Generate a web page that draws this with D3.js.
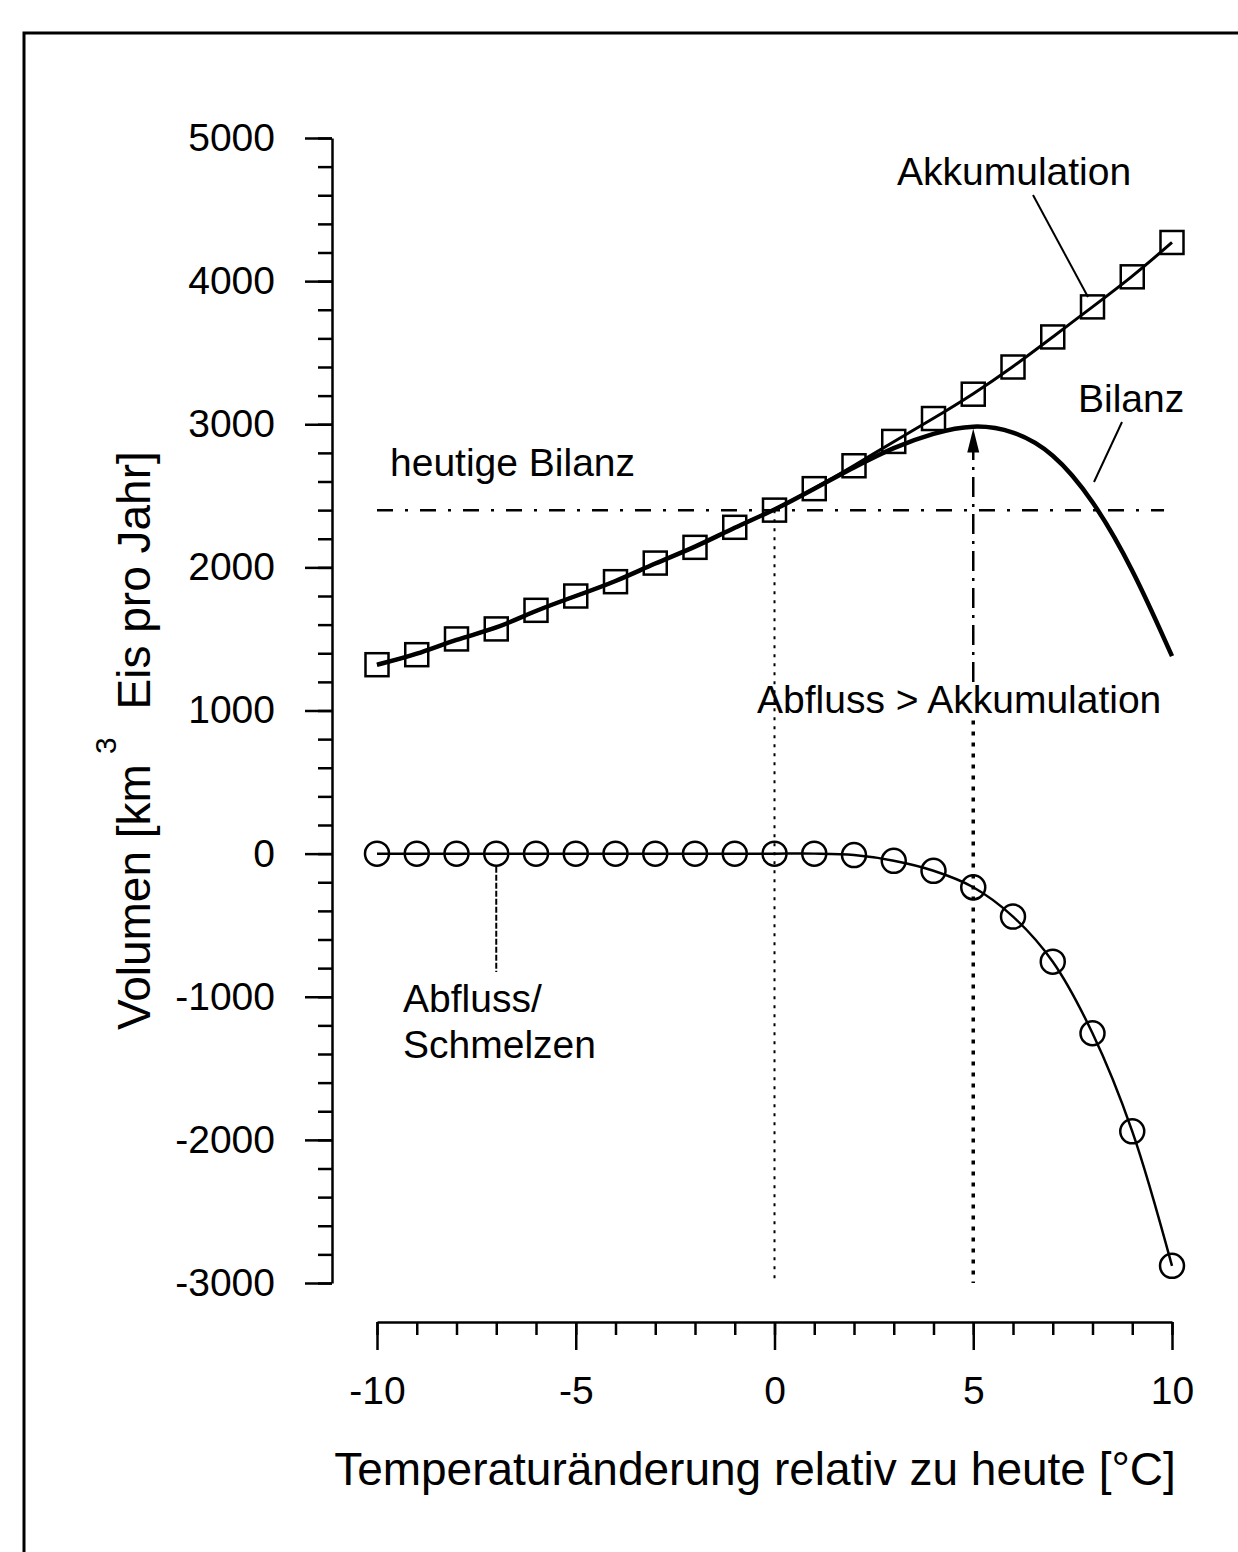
<!DOCTYPE html>
<html>
<head>
<meta charset="utf-8">
<script src="https://cdn.jsdelivr.net/npm/d3@7"></script>
<style>
  body { margin: 0; background: #fff; }
  svg { display: block; }
  text { font-family: "Liberation Sans", Arial, Helvetica, sans-serif; fill: #000; }
</style>
</head>
<body>
<div id="chart"></div>
<script>
// data (temperature change vs. ice volume per year)
var temps = [-10, -9, -8, -7, -6, -5, -4, -3, -2, -1, 0, 1, 2, 3, 4, 5, 6, 7, 8, 9, 10];
var akkumulation = [1320, 1390, 1500, 1570, 1700, 1800, 1900, 2030, 2140, 2280, 2400, 2550, 2710, 2880, 3040, 3210, 3400, 3610, 3820, 4030, 4270];
var abfluss = [0, 0, 0, 0, 0, 0, 0, 0, 0, 0, 0, 0, -10, -50, -120, -235, -440, -755, -1255, -1940, -2880];
var bilanz = [1320, 1390, 1500, 1570, 1700, 1800, 1900, 2030, 2140, 2280, 2400, 2550, 2700, 2840, 2940, 3000, 2960, 2810, 2480, 2000, 1380];
var heutigeBilanz = 2400;
var xTicks = [-10, -5, 0, 5, 10];
var yTicks = [-3000, -2000, -1000, 0, 1000, 2000, 3000, 4000, 5000];

var svgWidth = 1238, svgHeight = 1552;

var svg = d3.select("#chart")
  .append("svg")
  .attr("width", svgWidth)
  .attr("height", svgHeight);

// outer frame (runs off the right and bottom edge)
svg.append("rect")
  .attr("x", 24).attr("y", 33)
  .attr("width", 1300).attr("height", 1600)
  .attr("fill", "none")
  .attr("stroke", "#000")
  .attr("stroke-width", 3);

var xScale = d3.scaleLinear().domain([-10, 10]).range([377, 1172]);
var yScale = d3.scaleLinear().domain([-3000, 5000]).range([1283, 138]);

// plain numbers, hyphen as minus sign like the original
var plain = function(d) { return String(d); };

// ---- y axis ----
var yMinor = d3.range(-3000, 5001, 200);
svg.append("g")
  .attr("transform", "translate(332,0)")
  .call(d3.axisLeft(yScale).tickValues(yMinor).tickSize(14).tickSizeOuter(0).tickFormat(""))
  .call(function(g) { g.select(".domain").remove(); });

svg.append("g")
  .attr("transform", "translate(332,0)")
  .call(d3.axisLeft(yScale).tickValues(yTicks).tickSize(27).tickSizeOuter(0).tickPadding(30).tickFormat(plain));

// ---- x axis ----
var xMinor = d3.range(-10, 11, 1);
svg.append("g")
  .attr("transform", "translate(0,1322)")
  .call(d3.axisBottom(xScale).tickValues(xMinor).tickSize(13).tickSizeOuter(0).tickFormat(""))
  .call(function(g) { g.select(".domain").remove(); });

svg.append("g")
  .attr("transform", "translate(0,1322)")
  .call(d3.axisBottom(xScale).tickValues(xTicks).tickSize(28).tickSizeOuter(0).tickPadding(26).tickFormat(plain));

svg.selectAll(".tick line").attr("stroke", "#000").attr("stroke-width", 2.5);
svg.selectAll(".domain").attr("stroke", "#000").attr("stroke-width", 2.5);
svg.selectAll(".tick text").attr("font-size", 39).style("font-family", "'Liberation Sans', Arial, sans-serif");

// axis titles
svg.append("text")
  .attr("x", 755).attr("y", 1485)
  .attr("text-anchor", "middle")
  .attr("font-size", 46)
  .text("Temperaturänderung relativ zu heute [°C]");

var yTitle = svg.append("text")
  .attr("font-size", 46)
  .attr("transform", "translate(150,1030)rotate(-90)");
yTitle.append("tspan").text("Volumen [km");
yTitle.append("tspan").attr("dx", 10).attr("dy", -34).attr("font-size", 30).text("3");
yTitle.append("tspan").attr("dx", 28).attr("dy", 34).text("Eis pro Jahr]");

// ---- reference lines ----
svg.append("line")
  .attr("x1", xScale(-10)).attr("x2", xScale(9.8))
  .attr("y1", yScale(heutigeBilanz)).attr("y2", yScale(heutigeBilanz))
  .attr("stroke", "#000").attr("stroke-width", 2.5)
  .attr("stroke-dasharray", "16,12,3,12");

svg.append("line")
  .attr("x1", xScale(0)).attr("x2", xScale(0))
  .attr("y1", yScale(heutigeBilanz)).attr("y2", yScale(-3000))
  .attr("stroke", "#000").attr("stroke-width", 2)
  .attr("stroke-dasharray", "3,6");

// arrow at +5 degrees: dash-dot above the label, dotted below
svg.append("line")
  .attr("x1", xScale(5)).attr("x2", xScale(5))
  .attr("y1", yScale(1200)).attr("y2", yScale(2880))
  .attr("stroke", "#000").attr("stroke-width", 2.5)
  .attr("stroke-dasharray", "20,7,3,7");

svg.append("line")
  .attr("x1", xScale(5)).attr("x2", xScale(5))
  .attr("y1", yScale(930)).attr("y2", yScale(-3000))
  .attr("stroke", "#000").attr("stroke-width", 3.5)
  .attr("stroke-dasharray", "4,7");

var ax = xScale(5), ay = yScale(2970);
svg.append("path")
  .attr("d", "M" + ax + "," + ay + "L" + (ax - 6) + "," + (ay + 24) + "L" + (ax + 6) + "," + (ay + 24) + "Z")
  .attr("fill", "#000");

// ---- curves ----
var akkData = temps.map(function(t, i) { return {x: t, y: akkumulation[i]}; });
var abfData = temps.map(function(t, i) { return {x: t, y: abfluss[i]}; });
var bilData = temps.map(function(t, i) { return {x: t, y: bilanz[i]}; });

// smoothed fit lines like the original drawing
var smooth = d3.line()
  .x(function(d) { return xScale(d.x); })
  .y(function(d) { return yScale(d.y); })
  .curve(d3.curveBasis);

var through = d3.line()
  .x(function(d) { return xScale(d.x); })
  .y(function(d) { return yScale(d.y); })
  .curve(d3.curveCatmullRom);

svg.append("path").datum(bilData)
  .attr("d", smooth).attr("fill", "none")
  .attr("stroke", "#000").attr("stroke-width", 4.5);

svg.append("path").datum(akkData)
  .attr("d", smooth).attr("fill", "none")
  .attr("stroke", "#000").attr("stroke-width", 3);

svg.append("path").datum(abfData)
  .attr("d", through).attr("fill", "none")
  .attr("stroke", "#000").attr("stroke-width", 2.5);

// markers
var sq = 23;
svg.selectAll("rect.akk").data(akkData).enter()
  .append("rect")
  .attr("class", "akk")
  .attr("x", function(d) { return xScale(d.x) - sq / 2; })
  .attr("y", function(d) { return yScale(d.y) - sq / 2; })
  .attr("width", sq).attr("height", sq)
  .attr("fill", "none").attr("stroke", "#000").attr("stroke-width", 2.5);

svg.selectAll("circle.abf").data(abfData).enter()
  .append("circle")
  .attr("class", "abf")
  .attr("cx", function(d) { return xScale(d.x); })
  .attr("cy", function(d) { return yScale(d.y); })
  .attr("r", 12)
  .attr("fill", "none").attr("stroke", "#000").attr("stroke-width", 2.5);

// ---- annotations ----
function label(x, y, txt) {
  svg.append("text").attr("x", x).attr("y", y).attr("font-size", 39).text(txt);
}
label(897, 185, "Akkumulation");
label(1078, 412, "Bilanz");
label(390, 476, "heutige Bilanz");
label(757, 713, "Abfluss > Akkumulation");
label(403, 1012, "Abfluss/");
label(403, 1058, "Schmelzen");

function leader(x1, y1, x2, y2, dash) {
  svg.append("line")
    .attr("x1", x1).attr("y1", y1).attr("x2", x2).attr("y2", y2)
    .attr("stroke", "#000").attr("stroke-width", 2)
    .attr("stroke-dasharray", dash || null);
}
leader(1033, 195, 1088, 297);
leader(1122, 422, 1094, 482);
leader(xScale(-7), yScale(0) + 13, xScale(-7), 972, "6,2");
</script>
</body>
</html>
